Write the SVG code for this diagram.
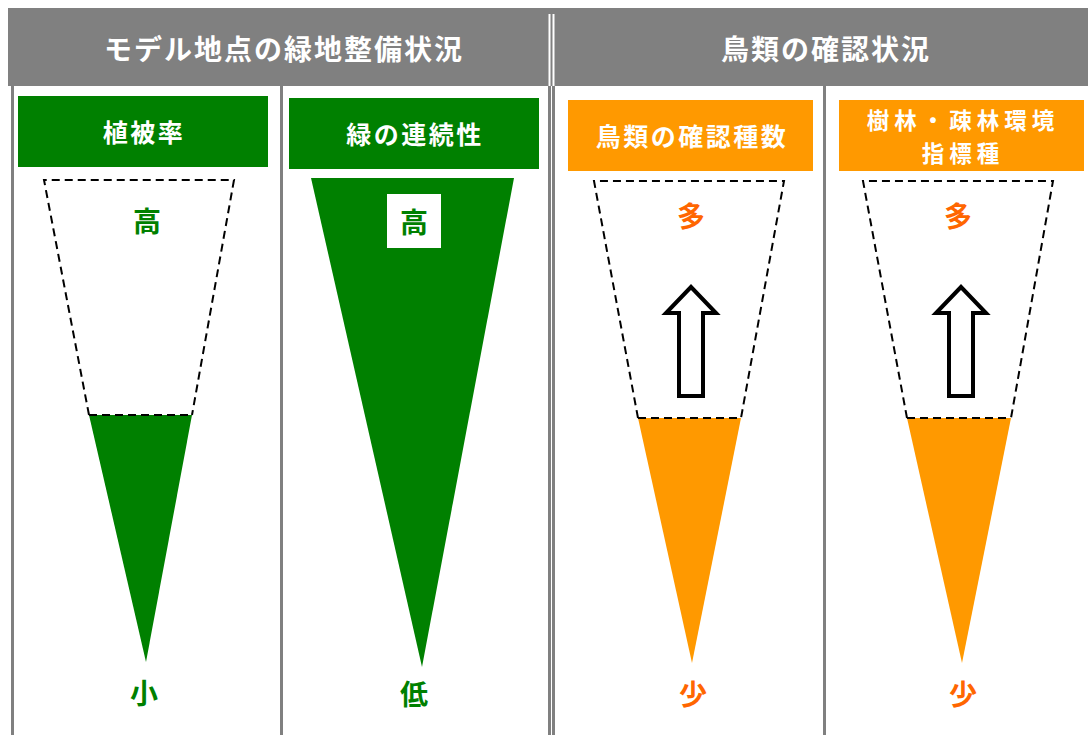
<svg xmlns="http://www.w3.org/2000/svg" width="1088" height="735" viewBox="0 0 1088 735">
<style>
text{font-family:"Noto Sans CJK JP","Noto Sans",sans-serif;font-weight:bold;text-anchor:middle;dominant-baseline:central}
.hd{fill:#fff;font-size:28px;letter-spacing:2px}
.ch{fill:#fff;font-size:25px;letter-spacing:2.5px}
.ch2{fill:#fff;font-size:22.5px;letter-spacing:5px}
.gl{fill:#008000;font-size:28px}
.ol{fill:#FF6600;font-size:28px}
.vl{stroke:#808080;stroke-width:3;fill:none}
.dash{stroke:#000;stroke-width:2;fill:none;stroke-dasharray:8 5}
.arr{fill:#fff;stroke:#000;stroke-width:4;stroke-linejoin:miter}
</style>
<rect width="1088" height="735" fill="#fff"/>
<g id="header">
<rect x="8" y="8" width="1080" height="78" fill="#808080"/>
<line x1="549.5" y1="14" x2="549.5" y2="86" stroke="#fff" stroke-width="2"/>
<line x1="553.5" y1="14" x2="553.5" y2="86" stroke="#fff" stroke-width="2"/>
<text class="hd" x="284" y="48">モデル地点の緑地整備状況</text>
<text class="hd" x="826" y="48">鳥類の確認状況</text>
</g>
<g id="grid">
<line class="vl" x1="12.5" y1="86" x2="12.5" y2="735"/>
<line class="vl" x1="281.5" y1="86" x2="281.5" y2="735"/>
<line class="vl" x1="549.5" y1="86" x2="549.5" y2="735" stroke-width="2"/>
<line class="vl" x1="553.5" y1="86" x2="553.5" y2="735" stroke-width="2"/>
<line class="vl" x1="824.5" y1="86" x2="824.5" y2="735"/>
</g>
<g id="col1">
<rect x="18" y="96" width="250" height="71" fill="#008000"/>
<text class="ch" x="144" y="131">植被率</text>
<polygon points="89,415 192,415 146,662" fill="#008000"/>
<polyline class="dash" points="89,415 44,180 234,180 192,415"/>
<line class="dash" x1="89" y1="415" x2="192" y2="415"/>
<text class="gl" x="147" y="220">高</text>
<text class="gl" x="144" y="692">小</text>
</g>
<g id="col2">
<rect x="289" y="98" width="250" height="71" fill="#008000"/>
<text class="ch" x="415" y="133">緑の連続性</text>
<polygon points="311,178 514,178 422,667" fill="#008000"/>
<rect x="387" y="194" width="54" height="54" fill="#fff"/>
<text class="gl" x="414" y="221">高</text>
<text class="gl" x="414" y="693">低</text>
</g>
<g id="col3">
<rect x="568" y="100" width="245" height="71" fill="#FF9900"/>
<text class="ch" x="692" y="135">鳥類の確認種数</text>
<polygon points="638,418 741,418 692,663" fill="#FF9900"/>
<polyline class="dash" points="638,418 594,181 784,181 741,418"/>
<line class="dash" x1="638" y1="418" x2="741" y2="418"/>
<text class="ol" x="691" y="215">多</text>
<polygon class="arr" points="679,396 703,396 703,313 716,313 691,287 666,313 679,313"/>
<text class="ol" x="693" y="693">少</text>
</g>
<g id="col4">
<rect x="839" y="100" width="245" height="71" fill="#FF9900"/>
<text class="ch2" x="963" y="119">樹林・疎林環境</text>
<text class="ch2" x="963" y="152">指標種</text>
<polygon points="907,418 1011,418 962,663" fill="#FF9900"/>
<polyline class="dash" points="907,418 863,181 1053,181 1011,418"/>
<line class="dash" x1="907" y1="418" x2="1011" y2="418"/>
<text class="ol" x="958" y="215">多</text>
<polygon class="arr" points="949,396 973,396 973,313 986,313 961,287 936,313 949,313"/>
<text class="ol" x="963" y="693">少</text>
</g>
<g id="connectors"></g>
</svg>
